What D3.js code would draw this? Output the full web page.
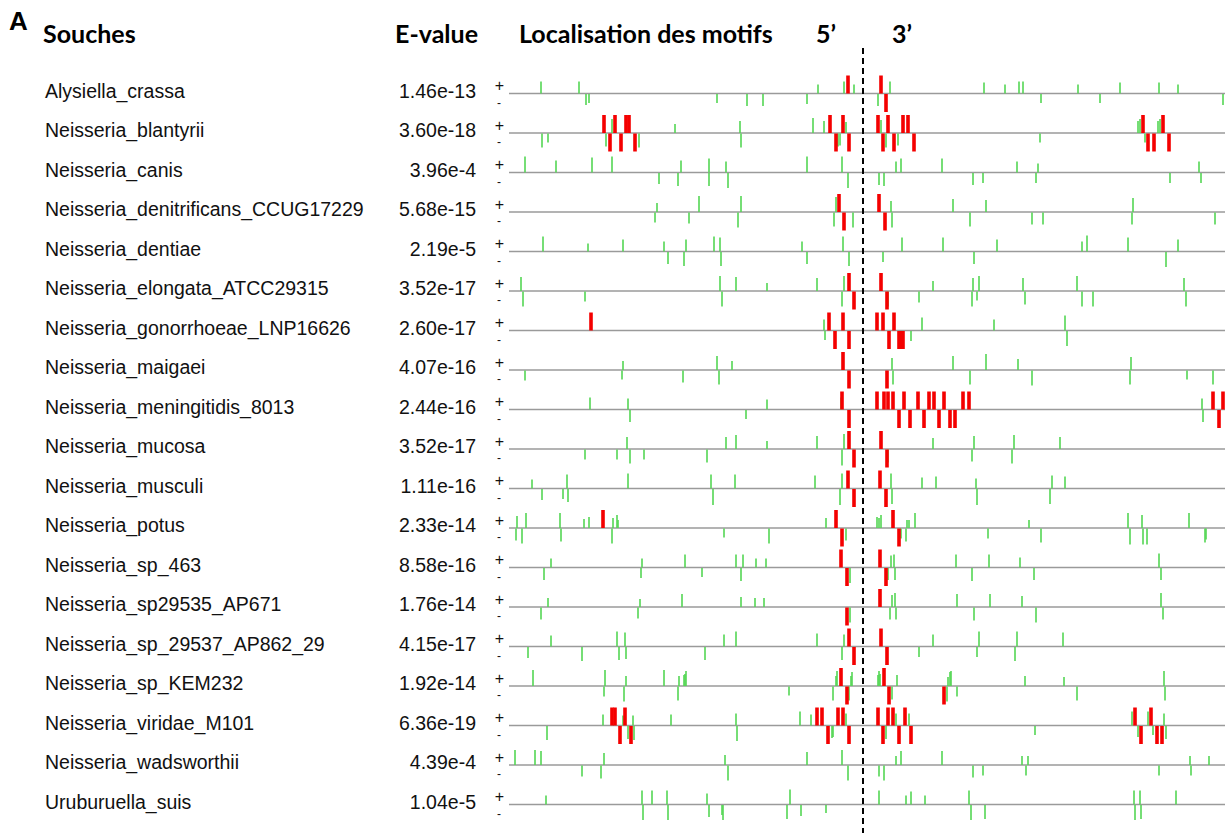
<!DOCTYPE html>
<html>
<head>
<meta charset="utf-8">
<script src="https://cdn.jsdelivr.net/npm/d3@7"></script>
<style>
  body { margin: 0; background: #fff; }
  svg { display: block; }
  .name, .evalue { font-family: "Liberation Sans", Arial, sans-serif; font-size: 19.5px; fill: #111; }
  .plus-sign { font-family: "Liberation Sans", Arial, sans-serif; font-size: 16px; fill: #111; }
  .minus-sign { font-family: "Liberation Sans", Arial, sans-serif; font-size: 12px; fill: #111; }
  .head { font-family: Lato, "Open Sans", sans-serif; font-weight: bold; font-size: 25px; fill: #000; }
</style>
</head>
<body>
<div id="chart"></div>
<script>

// strains and E-values
var strains = [
    "Alysiella_crassa", "Neisseria_blantyrii", "Neisseria_canis", "Neisseria_denitrificans_CCUG17229",
    "Neisseria_dentiae", "Neisseria_elongata_ATCC29315", "Neisseria_gonorrhoeae_LNP16626", "Neisseria_maigaei",
    "Neisseria_meningitidis_8013", "Neisseria_mucosa", "Neisseria_musculi", "Neisseria_potus",
    "Neisseria_sp_463", "Neisseria_sp29535_AP671", "Neisseria_sp_29537_AP862_29", "Neisseria_sp_KEM232",
    "Neisseria_viridae_M101", "Neisseria_wadsworthii", "Uruburuella_suis"
];

var evalues = [
    "1.46e-13", "3.60e-18", "3.96e-4", "5.68e-15", "2.19e-5", "3.52e-17", "2.60e-17", "4.07e-16",
    "2.44e-16", "3.52e-17", "1.11e-16", "2.33e-14", "8.58e-16", "1.76e-14", "4.15e-17", "1.92e-14",
    "6.36e-19", "4.39e-4", "1.04e-5"
];

// motifs on + strand: [position relative to start, score] (score 18 = best motif)
var plusMotifs = [
    [[-322,12],[-284,12],[-45,9],[-19,12],[-15,18],[-9,9],[18,18],[27,12],[121,11],[142,9],[156,12],[160,12],[215,9],[257,11],[296,11],[315,9]],
    [[-259,18],[-251,14],[-248,18],[-237,18],[-234,18],[-188,9],[-123,12],[-50,15],[-39,12],[-33,18],[-20,18],[-17,11],[15,18],[18,13],[25,18],[40,18],[45,18],[275,12],[277,14],[280,18],[295,12],[297,14],[300,18]],
    [[-338,16],[-307,12],[-271,15],[-251,16],[-182,12],[-154,14],[-137,11],[-56,16],[-21,16],[33,11],[38,14],[79,14],[154,11],[175,9],[336,11]],
    [[-206,9],[-164,16],[-122,16],[-27,15],[-24,18],[16,18],[28,11],[90,13],[123,12],[270,14]],
    [[-320,15],[-275,8],[-240,12],[-199,10],[-177,12],[-149,15],[-143,14],[-61,10],[-20,15],[39,14],[80,14],[134,12],[219,10],[224,16],[265,14],[315,12]],
    [[-342,14],[-143,15],[-127,14],[-96,8],[-46,13],[-19,15],[-14,18],[18,18],[70,10],[110,13],[116,15],[160,13],[214,15],[321,13]],
    [[-272,18],[-39,11],[-34,18],[-20,18],[14,18],[20,18],[31,18],[59,13],[131,11],[202,15]],
    [[-240,9],[-146,14],[-131,9],[-20,18],[29,12],[90,14],[123,16],[155,11],[268,13]],
    [[-273,12],[-235,11],[-96,10],[-22,12],[-21,18],[14,18],[21,18],[25,18],[30,18],[41,18],[55,18],[66,18],[71,18],[81,18],[100,18],[106,18],[339,11],[350,18],[360,18]],
    [[-236,12],[-137,12],[-127,14],[-96,8],[-46,13],[-19,15],[-14,18],[18,18],[70,11],[111,13],[151,14],[197,12]],
    [[-331,9],[-296,14],[-235,15],[-152,14],[-128,14],[-48,13],[-21,15],[-15,18],[17,18],[28,15],[59,11],[73,12],[113,10],[189,13],[202,12]],
    [[-346,12],[-337,15],[-303,15],[-279,9],[-274,11],[-260,18],[-250,10],[-246,13],[-245,8],[-37,10],[-27,18],[14,11],[16,10],[18,13],[30,18],[44,8],[46,8],[52,15],[166,8],[265,15],[279,13],[326,15]],
    [[-312,9],[-221,9],[-178,13],[-127,13],[-120,13],[-107,9],[-97,9],[-22,18],[17,18],[28,12],[31,13],[93,13],[126,13],[157,10],[296,14]],
    [[-315,9],[-223,8],[-181,13],[-122,10],[-108,9],[-99,9],[17,18],[29,12],[32,14],[94,13],[127,13],[159,11],[298,14]],
    [[-312,11],[-246,15],[-238,14],[-139,12],[-127,15],[-46,13],[-19,12],[-14,18],[18,18],[70,12],[116,15],[154,15],[200,14]],
    [[-330,16],[-258,16],[-237,10],[-199,16],[-184,10],[-179,11],[-178,12],[-177,15],[-27,10],[-26,15],[-22,18],[-12,10],[-11,14],[15,11],[16,15],[17,12],[21,18],[34,11],[85,9],[87,14],[88,15],[162,10],[201,9],[301,15]],
    [[-260,11],[-251,18],[-248,18],[-240,10],[-238,18],[-230,10],[-192,11],[-127,12],[-63,14],[-52,11],[-46,18],[-41,18],[-25,18],[-20,18],[-17,12],[15,18],[25,18],[30,18],[33,12],[42,18],[46,12],[269,14],[272,18],[285,14],[288,18],[301,12]],
    [[-348,15],[-328,15],[-322,14],[-259,12],[-138,10],[-56,13],[-21,15],[33,9],[38,14],[79,14],[159,9],[165,9],[327,9],[346,9]],
    [[-317,9],[-221,14],[-211,14],[-196,14],[-156,11],[-73,15],[16,14],[43,9],[48,13],[62,9],[106,14],[271,14],[277,14],[313,14]]
];

// motifs on - strand
var minusMotifs = [
    [[-277,11],[-274,9],[-146,9],[-116,12],[-100,12],[-56,10],[15,12],[23,18],[178,9],[237,9],[360,11]],
    [[-321,14],[-315,9],[-257,13],[-253,18],[-242,18],[-228,18],[-224,14],[-122,14],[-27,18],[-25,13],[-23,12],[-14,18],[20,18],[23,14],[31,18],[35,12],[51,18],[177,9],[282,9],[285,18],[291,18],[306,18]],
    [[-204,11],[-185,13],[-154,13],[-135,15],[-15,15],[16,12],[21,13],[110,12],[120,10],[173,10],[307,10],[338,10]],
    [[-208,10],[-174,11],[-125,15],[-29,14],[-19,18],[-10,15],[22,18],[29,15],[107,14],[169,12],[180,12],[269,12],[352,12]],
    [[-195,12],[-179,14],[-142,14],[-56,12],[-14,14],[20,10],[111,12],[303,15]],
    [[-340,15],[-278,10],[-141,15],[-21,15],[-9,18],[24,18],[25,15],[56,11],[109,15],[114,9],[162,13],[219,15],[230,15],[323,15]],
    [[-38,9],[-28,18],[-14,18],[26,18],[36,18],[38,18],[40,18],[48,10],[204,15]],
    [[-338,10],[-241,9],[-180,12],[-144,14],[-14,18],[24,18],[30,14],[107,14],[169,15],[267,14],[324,9],[350,14]],
    [[-233,12],[-117,9],[-14,18],[36,18],[47,18],[61,18],[76,18],[87,18],[92,18],[340,12],[356,18]],
    [[-278,10],[-246,10],[-233,14],[-219,10],[-156,13],[-21,16],[-9,18],[24,18],[25,13],[109,12],[149,14]],
    [[-321,11],[-300,10],[-295,13],[-150,16],[-23,16],[-9,18],[23,18],[29,15],[114,16],[187,15]],
    [[-347,12],[-341,15],[-302,13],[-251,15],[-139,9],[-94,15],[-21,18],[-17,12],[36,18],[38,10],[43,13],[125,10],[178,14],[267,16],[280,16],[284,16],[342,14],[343,11]],
    [[-319,12],[-222,10],[-161,9],[-122,13],[-16,18],[-13,15],[23,18],[25,12],[32,12],[109,13],[171,12],[298,12]],
    [[-322,12],[-225,11],[-16,18],[-13,15],[27,12],[33,12],[111,13],[173,15],[300,12]],
    [[-335,11],[-281,14],[-244,13],[-237,12],[-158,13],[-21,13],[-9,18],[24,18],[56,10],[114,10],[152,14]],
    [[-259,10],[-239,15],[-185,14],[-74,9],[-30,14],[-16,18],[-14,14],[26,18],[29,13],[81,18],[84,15],[94,10],[214,14],[302,14]],
    [[-316,14],[-243,18],[-235,13],[-232,18],[-229,14],[-126,15],[-35,18],[-31,12],[-30,11],[-14,18],[20,18],[23,13],[36,18],[48,18],[172,9],[275,11],[278,18],[290,9],[294,18],[299,18],[303,13]],
    [[-281,11],[-262,13],[-135,15],[-15,15],[16,11],[21,15],[110,12],[120,10],[163,10],[296,10],[328,10]],
    [[-220,15],[-195,15],[-154,12],[-141,10],[-140,15],[-76,14],[-62,11],[-37,8],[108,15],[122,14],[272,15],[278,14]]
];

var width = 1225,
    height = 833;

var svg = d3.select("#chart").append("svg")
    .attr("width", width)
    .attr("height", height);

var x = d3.scaleLinear().domain([-354, 362]).range([509, 1225]);
var y = d3.scalePoint().domain(strains).range([93.5, 804.5]);
var h = d3.scaleLinear().domain([0, 18]).range([0, 18]);
var color = d3.scaleThreshold().domain([17]).range(["#55d655", "#f40000"]);
var barW = d3.scaleThreshold().domain([17]).range([1.6, 3.6]);

// headers
svg.append("text").attr("x", 9).attr("y", 30)
    .style("font-family", "'Liberation Sans', Arial, sans-serif")
    .style("font-weight", "bold").style("font-size", "26px")
    .text("A");

var heads = [["Souches", 43, "start"], ["E-value", 478, "end"], ["Localisation des motifs", 519, "start"], ["5\u2019", 816, "start"], ["3\u2019", 892, "start"]];
svg.selectAll(".head").data(heads).enter().append("text")
    .attr("class", "head")
    .attr("x", function (d) { return d[1]; })
    .attr("y", 43)
    .attr("text-anchor", function (d) { return d[2]; })
    .text(function (d) { return d[0]; });

var rows = svg.selectAll(".row")
    .data(strains)
    .enter()
    .append("g")
    .attr("class", "row")
    .attr("transform", function (d) { return "translate(0," + y(d) + ")"; });

rows.append("text")
    .attr("class", "name")
    .attr("x", 45)
    .attr("y", 4)
    .text(function (d) { return d; });

rows.append("text")
    .attr("class", "evalue")
    .attr("x", 476)
    .attr("y", 4)
    .attr("text-anchor", "end")
    .text(function (d, i) { return evalues[i]; });

// strand labels
rows.append("text").attr("class", "plus-sign")
    .attr("x", 499.5).attr("y", -2.5).attr("text-anchor", "middle").text("+");
rows.append("text").attr("class", "minus-sign")
    .attr("x", 499).attr("y", 13).attr("text-anchor", "middle").text("-");

rows.append("line")
    .attr("x1", x.range()[0]).attr("x2", x.range()[1])
    .attr("stroke", "#9a9a9a")
    .attr("stroke-width", 1.5);

// + strand marks go up, - strand marks go down
rows.selectAll(".plus")
    .data(function (d, i) { return plusMotifs[i].slice().sort(function (a, b) { return a[1] - b[1]; }); })
    .enter().append("rect")
    .attr("class", "plus")
    .attr("x", function (d) { return x(d[0]) - barW(d[1]) / 2; })
    .attr("y", function (d) { return -h(d[1]); })
    .attr("width", function (d) { return barW(d[1]); })
    .attr("height", function (d) { return h(d[1]); })
    .attr("fill", function (d) { return color(d[1]); });

rows.selectAll(".minus")
    .data(function (d, i) { return minusMotifs[i].slice().sort(function (a, b) { return a[1] - b[1]; }); })
    .enter().append("rect")
    .attr("class", "minus")
    .attr("x", function (d) { return x(d[0]) - barW(d[1]) / 2; })
    .attr("y", 0.5)
    .attr("width", function (d) { return barW(d[1]); })
    .attr("height", function (d) { return h(d[1]); })
    .attr("fill", function (d) { return color(d[1]); });

// start position
svg.append("line")
    .attr("x1", x(0)).attr("x2", x(0))
    .attr("y1", 48).attr("y2", height)
    .attr("stroke", "#000")
    .attr("stroke-width", 2)
    .attr("stroke-dasharray", "6,4");

</script>
</body>
</html>
